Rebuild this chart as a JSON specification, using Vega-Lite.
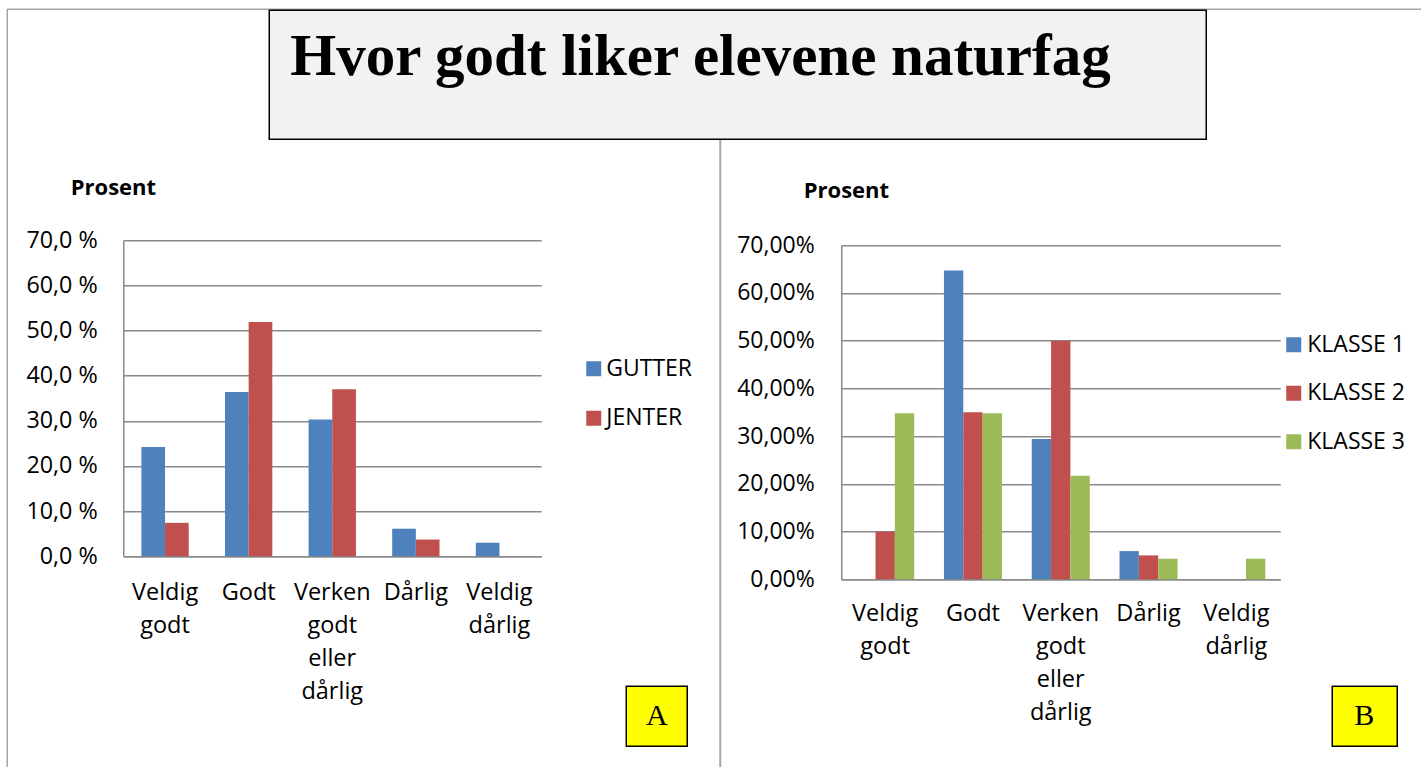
{
  "$schema": "https://vega.github.io/schema/vega-lite/v6.json",
  "background": "white",
  "padding": {"left": 6.25, "top": 8.25, "right": 0, "bottom": 0},
  "config": {
    "view": {"stroke": null},
    "font": "Open Sans",
    "axis": {"tickSize": 0, "ticks": false, "labelColor": "black", "labelFont": "Open Sans", "titleFont": "Open Sans", "titleColor": "black"},
    "legend": {"labelFont": "Open Sans", "labelColor": "black"}
  },
  "bounds": "flush",
  "spacing": 300,
  "resolve": {"scale": {"color": "independent", "x": "independent", "y": "independent", "xOffset": "independent"}, "legend": {"color": "independent"}},
  "hconcat": [
    {
      "width": 418,
      "height": 316,
      "layer": [
        {
          "data": {"values": [{}]},
          "mark": {"type": "rule", "color": "#a6a6a6", "strokeWidth": 1.5},
          "encoding": {"x": {"value": -116}, "x2": {"value": 1305}, "y": {"value": -231}}
        },
        {
          "data": {"values": [{}]},
          "mark": {"type": "rule", "color": "#a6a6a6", "strokeWidth": 1.5},
          "encoding": {"x": {"value": -116}, "y": {"value": -231}, "y2": {"value": 527}}
        },
        {
          "data": {"values": [{}]},
          "mark": {"type": "rule", "color": "#a6a6a6", "strokeWidth": 2},
          "encoding": {"x": {"value": 597}, "y": {"value": -101}, "y2": {"value": 527}}
        },
        {
          "data": {"values": [{}]},
          "mark": {"type": "rect", "fill": "#f2f2f2", "stroke": "black", "strokeWidth": 1.5},
          "encoding": {"x": {"value": 146}, "x2": {"value": 1083}, "y": {"value": -230}, "y2": {"value": -101}}
        },
        {
          "data": {"values": [{"tittel": "Hvor godt liker elevene naturfag"}]},
          "mark": {"type": "text", "font": "Liberation Serif", "fontWeight": "bold", "fontSize": 59, "align": "left", "baseline": "alphabetic", "color": "black"},
          "encoding": {"x": {"value": 167}, "y": {"value": -165}, "text": {"field": "tittel"}}
        },
        {
          "data": {"values": [
            {"svar": "Veldig godt", "gruppe": "GUTTER", "prosent": 24.2},
            {"svar": "Godt", "gruppe": "GUTTER", "prosent": 36.4},
            {"svar": "Verken godt eller dårlig", "gruppe": "GUTTER", "prosent": 30.3},
            {"svar": "Dårlig", "gruppe": "GUTTER", "prosent": 6.1},
            {"svar": "Veldig dårlig", "gruppe": "GUTTER", "prosent": 3.0},
            {"svar": "Veldig godt", "gruppe": "JENTER", "prosent": 7.4},
            {"svar": "Godt", "gruppe": "JENTER", "prosent": 51.9},
            {"svar": "Verken godt eller dårlig", "gruppe": "JENTER", "prosent": 37.0},
            {"svar": "Dårlig", "gruppe": "JENTER", "prosent": 3.7},
            {"svar": "Veldig dårlig", "gruppe": "JENTER", "prosent": 0}
          ]},
          "mark": {"type": "bar"},
          "encoding": {
            "x": {
              "field": "svar", "type": "nominal",
              "sort": ["Veldig godt", "Godt", "Verken godt eller dårlig", "Dårlig", "Veldig dårlig"],
              "scale": {"paddingInner": 0.434, "paddingOuter": 0.217},
              "axis": {"title": null, "labelAngle": 0, "labelExpr": "split(datum.label, ' ')", "labelFontSize": 23.5, "labelLineHeight": 33, "labelBaseline": "alphabetic", "labelPadding": 43, "labelAlign": "center", "domain": true, "domainColor": "#8a8a8a", "domainWidth": 1.5}
            },
            "xOffset": {"field": "gruppe", "type": "nominal", "sort": ["GUTTER", "JENTER"], "scale": {"paddingInner": 0, "paddingOuter": 0}},
            "y": {
              "field": "prosent", "type": "quantitative",
              "scale": {"domain": [0, 70]},
              "axis": {"values": [0, 10, 20, 30, 40, 50, 60, 70], "labelExpr": "replace(format(datum.value, '.1f'), '.', ',') + ' %'", "labelFontSize": 23.3, "labelPadding": 26, "grid": true, "gridColor": "#8a8a8a", "gridWidth": 1.5, "domain": true, "domainColor": "#8a8a8a", "domainWidth": 1.5, "title": "Prosent", "titleAngle": 0, "titleAlign": "left", "titleBaseline": "alphabetic", "titleX": -53, "titleY": -46, "titleFontSize": 22, "titleFontWeight": "bold"}
            },
            "color": {
              "field": "gruppe", "type": "nominal",
              "scale": {"domain": ["GUTTER", "JENTER"], "range": ["#4F81BD", "#C0504D"]},
              "legend": {"orient": "none", "legendX": 459, "legendY": 117, "title": null, "symbolType": "square", "symbolSize": 225, "symbolStrokeWidth": 0, "labelFontSize": 23, "labelOffset": 1, "rowPadding": 25.5, "padding": 0}
            }
          }
        },
        {
          "data": {"values": [{}]},
          "mark": {"type": "rect", "fill": "#ffff00", "stroke": "black", "strokeWidth": 1.5},
          "encoding": {"x": {"value": 503}, "x2": {"value": 564}, "y": {"value": 446}, "y2": {"value": 506}}
        },
        {
          "data": {"values": [{"bokstav": "A"}]},
          "mark": {"type": "text", "font": "Liberation Serif", "fontSize": 30, "align": "center", "baseline": "middle", "color": "black"},
          "encoding": {"x": {"value": 533.5}, "y": {"value": 476}, "text": {"field": "bokstav"}}
        }
      ]
    },
    {
      "width": 439,
      "height": 339,
      "layer": [
        {
          "data": {"values": [
            {"svar": "Veldig godt", "klasse": "KLASSE 1", "prosent": 0},
            {"svar": "Godt", "klasse": "KLASSE 1", "prosent": 64.7},
            {"svar": "Verken godt eller dårlig", "klasse": "KLASSE 1", "prosent": 29.4},
            {"svar": "Dårlig", "klasse": "KLASSE 1", "prosent": 5.9},
            {"svar": "Veldig dårlig", "klasse": "KLASSE 1", "prosent": 0},
            {"svar": "Veldig godt", "klasse": "KLASSE 2", "prosent": 10.0},
            {"svar": "Godt", "klasse": "KLASSE 2", "prosent": 35.0},
            {"svar": "Verken godt eller dårlig", "klasse": "KLASSE 2", "prosent": 50.0},
            {"svar": "Dårlig", "klasse": "KLASSE 2", "prosent": 5.0},
            {"svar": "Veldig dårlig", "klasse": "KLASSE 2", "prosent": 0},
            {"svar": "Veldig godt", "klasse": "KLASSE 3", "prosent": 34.8},
            {"svar": "Godt", "klasse": "KLASSE 3", "prosent": 34.8},
            {"svar": "Verken godt eller dårlig", "klasse": "KLASSE 3", "prosent": 21.7},
            {"svar": "Dårlig", "klasse": "KLASSE 3", "prosent": 4.3},
            {"svar": "Veldig dårlig", "klasse": "KLASSE 3", "prosent": 4.3}
          ]},
          "mark": {"type": "bar"},
          "encoding": {
            "x": {
              "field": "svar", "type": "nominal",
              "sort": ["Veldig godt", "Godt", "Verken godt eller dårlig", "Dårlig", "Veldig dårlig"],
              "scale": {"paddingInner": 0.339, "paddingOuter": 0.17},
              "axis": {"title": null, "labelAngle": 0, "labelExpr": "split(datum.label, ' ')", "labelFontSize": 23.5, "labelLineHeight": 33, "labelBaseline": "alphabetic", "labelPadding": 41, "labelAlign": "center", "domain": true, "domainColor": "#8a8a8a", "domainWidth": 1.5}
            },
            "xOffset": {"field": "klasse", "type": "nominal", "sort": ["KLASSE 1", "KLASSE 2", "KLASSE 3"], "scale": {"paddingInner": 0, "paddingOuter": 0}},
            "y": {
              "field": "prosent", "type": "quantitative",
              "scale": {"domain": [0, 70], "range": [339, 5]},
              "axis": {"values": [0, 10, 20, 30, 40, 50, 60, 70], "labelExpr": "replace(format(datum.value, '.2f'), '.', ',') + '%'", "labelFontSize": 23, "labelPadding": 27, "grid": true, "gridColor": "#8a8a8a", "gridWidth": 1.5, "domain": true, "domainColor": "#8a8a8a", "domainWidth": 1.5, "title": "Prosent", "titleAngle": 0, "titleAlign": "left", "titleBaseline": "alphabetic", "titleX": -38, "titleY": -43, "titleFontSize": 22, "titleFontWeight": "bold"}
            },
            "color": {
              "field": "klasse", "type": "nominal",
              "scale": {"domain": ["KLASSE 1", "KLASSE 2", "KLASSE 3"], "range": ["#4F81BD", "#C0504D", "#9BBB59"]},
              "legend": {"orient": "none", "legendX": 441, "legendY": 93, "title": null, "symbolType": "square", "symbolSize": 225, "symbolStrokeWidth": 0, "labelFontSize": 23, "labelOffset": 2, "rowPadding": 24.5, "padding": 0}
            }
          }
        },
        {
          "data": {"values": [{}]},
          "mark": {"type": "rect", "fill": "#ffff00", "stroke": "black", "strokeWidth": 1.5},
          "encoding": {"x": {"value": 491}, "x2": {"value": 556}, "y": {"value": 446}, "y2": {"value": 506}}
        },
        {
          "data": {"values": [{"bokstav": "B"}]},
          "mark": {"type": "text", "font": "Liberation Serif", "fontSize": 30, "align": "center", "baseline": "middle", "color": "black"},
          "encoding": {"x": {"value": 523}, "y": {"value": 476}, "text": {"field": "bokstav"}}
        }
      ]
    }
  ]
}
